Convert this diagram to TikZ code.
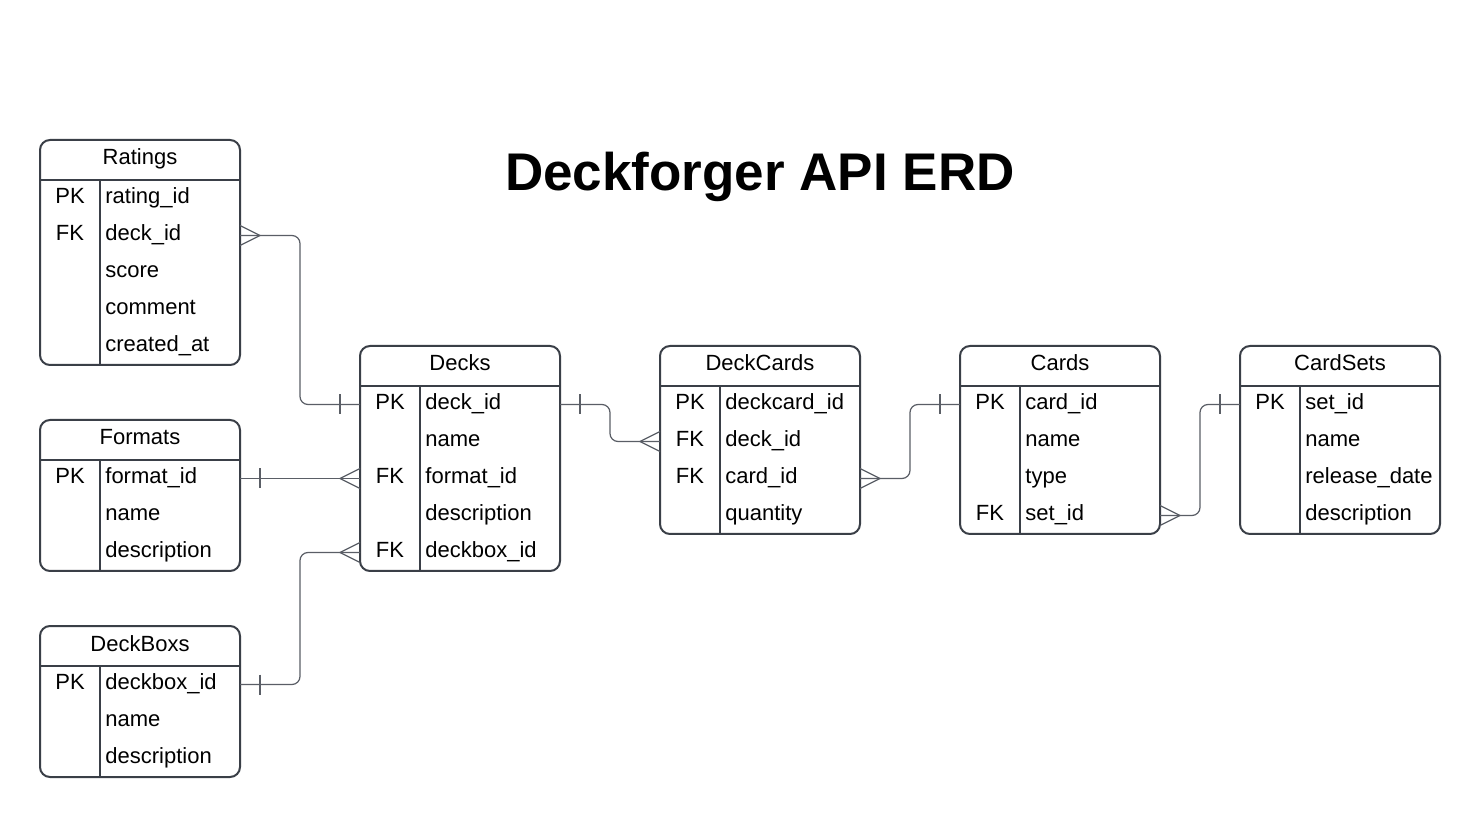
\documentclass[tikz,border=0pt]{standalone}
\usepackage{fontspec}
\setmainfont{Liberation Sans}
\definecolor{bd}{HTML}{3A3F47}
\definecolor{ln}{HTML}{5A5E66}
\tikzset{
  tbl/.style={draw=bd, line width=1pt},
  conn/.style={draw=ln, line width=0.6pt},
  cell/.style={inner sep=0pt, font=\fontsize{11}{13}\selectfont, text=black},
  hdrtext/.style={inner sep=0pt, font=\fontsize{11}{13}\selectfont, text=black},
  titletext/.style={inner sep=0pt, font=\bfseries\fontsize{26.5}{30}\selectfont, text=black}
}
\newcommand\erdtable[5]{%
  \begin{scope}[shift={(#2,#3)}]
    \node[hdrtext, anchor=base] (#1-title) at (100,25) {#4};
    \foreach \k/\f [count=\i] in {#5} {
      \node[cell, anchor=base] (#1-k\i) at (30, 40+37*\i-13.5) {\k};
      \node[cell, anchor=base west] (#1-f\i) at (65, 40+37*\i-13.5) {\f};
      \coordinate (#1-L\i) at (0, 40+37*\i-18.5);
      \coordinate (#1-R\i) at (200, 40+37*\i-18.5);
      \xdef\nrows{\i}
    }
    \draw[tbl, rounded corners=5] (0,0) rectangle (200, 40+37*\nrows);
    \draw[tbl] (0,40) -- (200,40) (60,40) -- (60, 40+37*\nrows);
  \end{scope}}
\newcommand\erdcrow[2]{\draw[conn] ([shift={(#2*20,0)}]#1) -- ([shift={(0,-10)}]#1) ([shift={(#2*20,0)}]#1) -- ([shift={(0,10)}]#1);}
\newcommand\erdbar[2]{\draw[conn] ([shift={(#2*20,-10)}]#1) -- ([shift={(#2*20,10)}]#1);}
\begin{document}
\begin{tikzpicture}[x=0.5pt, y=-0.5pt]
  \fill[white] (0,0) rectangle (1480,818);
  \useasboundingbox (0,0) rectangle (1480,818);
  \node[titletext, anchor=base] (title) at (760,191) {Deckforger API ERD};

  \erdtable{Ratings}{40}{140}{Ratings}{PK/rating\_id, FK/deck\_id, {}/score, {}/comment, {}/created\_at}
  \erdtable{Formats}{40}{420}{Formats}{PK/format\_id, {}/name, {}/description}
  \erdtable{DeckBoxs}{40}{626}{DeckBoxs}{PK/deckbox\_id, {}/name, {}/description}
  \erdtable{Decks}{360}{346}{Decks}{PK/deck\_id, {}/name, FK/format\_id, {}/description, FK/deckbox\_id}
  \erdtable{DeckCards}{660}{346}{DeckCards}{PK/deckcard\_id, FK/deck\_id, FK/card\_id, {}/quantity}
  \erdtable{Cards}{960}{346}{Cards}{PK/card\_id, {}/name, {}/type, FK/set\_id}
  \erdtable{CardSets}{1240}{346}{CardSets}{PK/set\_id, {}/name, {}/release\_date, {}/description}

  % Ratings -> Decks
  \draw[conn, rounded corners=4] (Ratings-R2) -- ++(60,0) |- (Decks-L1);
  \erdcrow{Ratings-R2}{1}
  \erdbar{Decks-L1}{-1}
  % Formats -> Decks
  \draw[conn] (Formats-R1) -- (Decks-L3);
  \erdbar{Formats-R1}{1}
  \erdcrow{Decks-L3}{-1}
  % DeckBoxs -> Decks
  \draw[conn, rounded corners=4] (DeckBoxs-R1) -- ++(60,0) |- (Decks-L5);
  \erdbar{DeckBoxs-R1}{1}
  \erdcrow{Decks-L5}{-1}
  % Decks -> DeckCards
  \draw[conn, rounded corners=4] (Decks-R1) -- ++(50,0) |- (DeckCards-L2);
  \erdbar{Decks-R1}{1}
  \erdcrow{DeckCards-L2}{-1}
  % DeckCards -> Cards
  \draw[conn, rounded corners=4] (DeckCards-R3) -- ++(50,0) |- (Cards-L1);
  \erdcrow{DeckCards-R3}{1}
  \erdbar{Cards-L1}{-1}
  % Cards -> CardSets
  \draw[conn, rounded corners=4] (Cards-R4) -- ++(40,0) |- (CardSets-L1);
  \erdcrow{Cards-R4}{1}
  \erdbar{CardSets-L1}{-1}
\end{tikzpicture}
\end{document}
